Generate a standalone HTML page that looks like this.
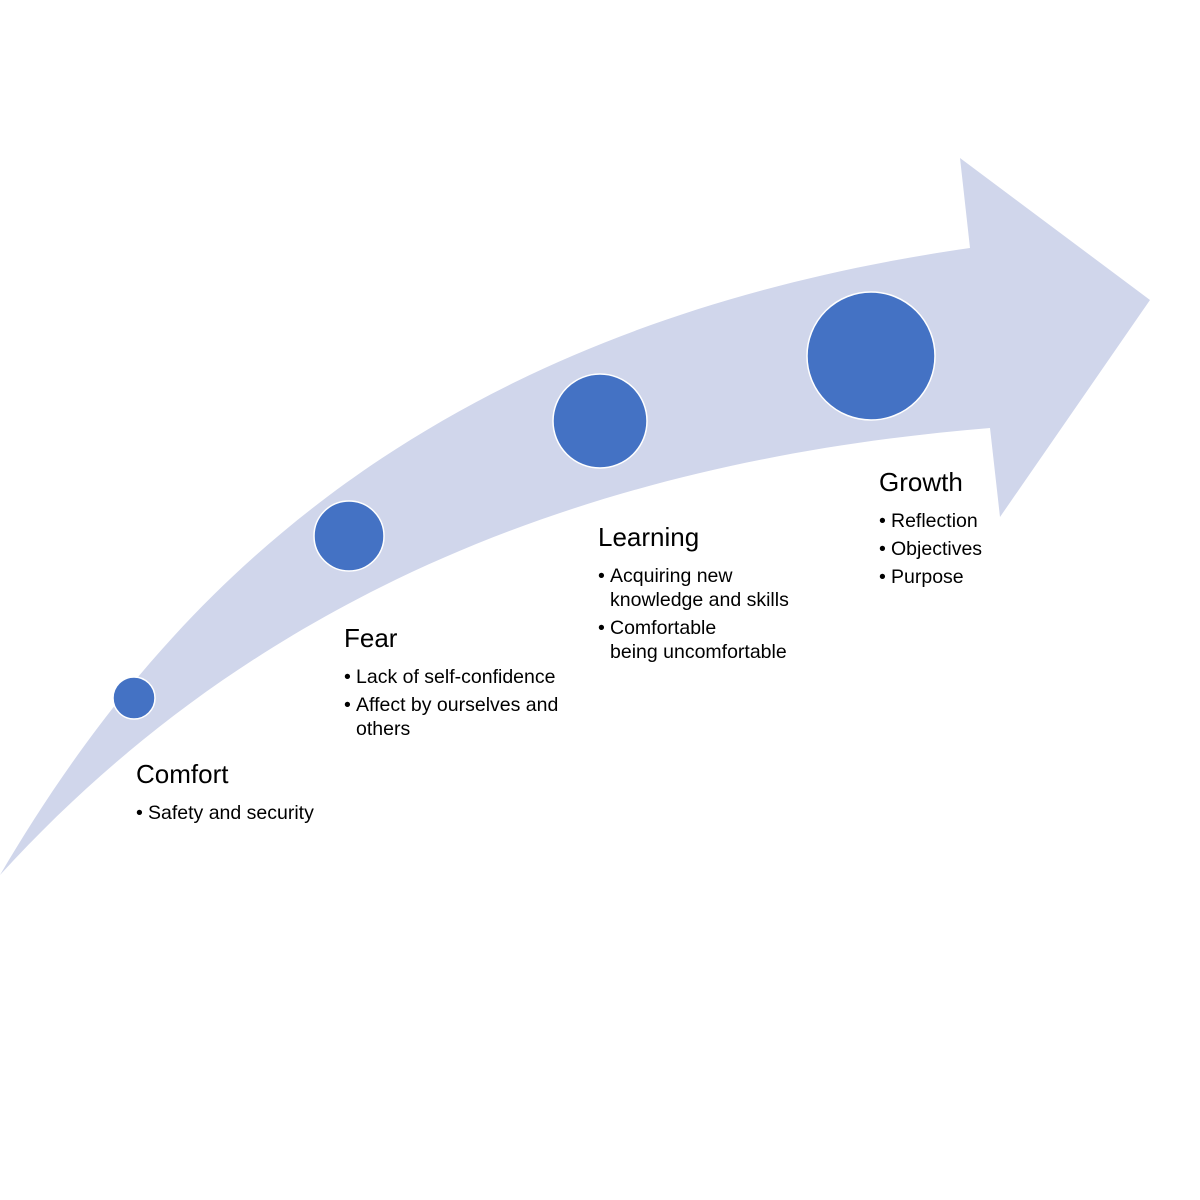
<!DOCTYPE html>
<html><head><style>
body{margin:0;width:1200px;height:1200px;background:#fff;overflow:hidden}
.t{position:absolute;font-family:"Liberation Sans",sans-serif;color:#000;white-space:nowrap}
.h{font-size:26px}
.b{font-size:19.5px;line-height:24px;padding-left:12px}
.b::before{content:"•";position:absolute;left:0}
</style></head><body>
<svg width="1200" height="1200" style="position:absolute;left:0;top:0">
<path d="M0,875 C150,620 400,330 970,248 L960,158 L1150,300 L1000,517 L990,428 C600,460 260,590 0,875 Z" fill="#D0D6EB"/>
<g fill="#4472C4" stroke="#fff" stroke-width="1.5">
<circle cx="134" cy="698" r="21"/>
<circle cx="349" cy="536" r="35"/>
<circle cx="600" cy="421" r="47"/>
<circle cx="871" cy="356" r="64"/>
</g>
</svg>
<div class="t h" style="left:136px;top:759px">Comfort</div>
<div class="t b" style="left:136px;top:801px">Safety and security</div>
<div class="t h" style="left:344px;top:623px">Fear</div>
<div class="t b" style="left:344px;top:665px">Lack of self-confidence</div>
<div class="t b" style="left:344px;top:693px">Affect by ourselves and<br>others</div>
<div class="t h" style="left:598px;top:522px">Learning</div>
<div class="t b" style="left:598px;top:564px">Acquiring new<br>knowledge and skills</div>
<div class="t b" style="left:598px;top:616px">Comfortable<br>being uncomfortable</div>
<div class="t h" style="left:879px;top:467px">Growth</div>
<div class="t b" style="left:879px;top:509px">Reflection</div>
<div class="t b" style="left:879px;top:537px">Objectives</div>
<div class="t b" style="left:879px;top:565px">Purpose</div>
</body></html>
